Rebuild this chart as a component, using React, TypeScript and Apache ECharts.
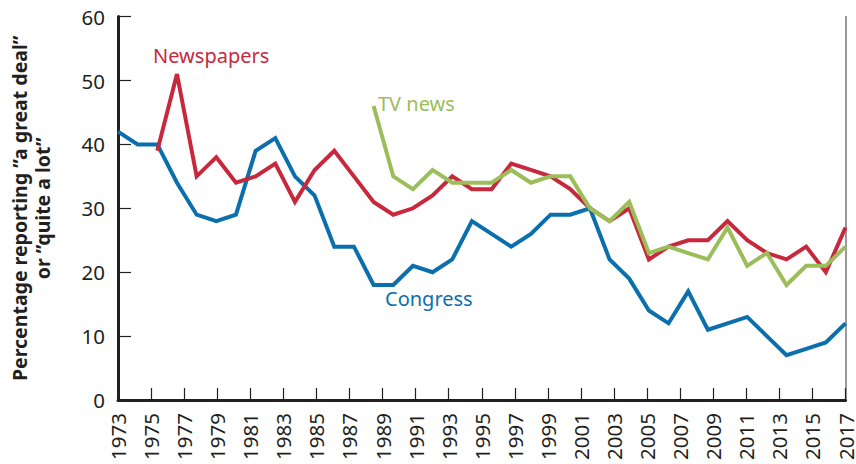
import React, { useEffect, useRef } from "react";
import * as echarts from "echarts";

// Survey years (points are spaced evenly along the axis)
const surveyYears = [
  "1973", "1975", "1977", "1979", "1981", "1983", "1984", "1985", "1986", "1988",
  "1989", "1990", "1991", "1993", "1994", "1995", "1996", "1997", "1998", "1999",
  "2000", "2001", "2002", "2003", "2004", "2005", "2006", "2007", "2008", "2009",
  "2010", "2011", "2012", "2013", "2014", "2015", "2016", "2017",
];

const congress = [
  42, 40, 40, 34, 29, 28, 29, 39, 41, 35, 32, 24, 24, 18, 18, 21, 20, 22, 28, 26,
  24, 26, 29, 29, 30, 22, 19, 14, 12, 17, 11, 12, 13, 10, 7, 8, 9, 12,
];

const newspapers = [
  null, null, 39, 51, 35, 38, 34, 35, 37, 31, 36, 39, 35, 31, 29, 30, 32, 35, 33, 33,
  37, 36, 35, 33, 30, 28, 30, 22, 24, 25, 25, 28, 25, 23, 22, 24, 20, 27,
];

const tvNews = [
  null, null, null, null, null, null, null, null, null, null, null, null, null, 46, 35, 33, 36, 34, 34, 34,
  36, 34, 35, 35, 30, 28, 31, 23, 24, 23, 22, 27, 21, 23, 18, 21, 21, 24,
];

// Axis tick labels: every year 1973-2017, labelled every other year
const axisYears: string[] = [];
for (let y = 1973; y <= 2017; y++) axisYears.push(String(y));

const yTicks = { min: 0, max: 60, interval: 10 };

const RED = "#c8283c";
const BLUE = "#0a6fac";
const GREEN = "#9bbd5a";
const FONT = "Noto Sans";

export default function App() {
  const ref = useRef<HTMLDivElement>(null);

  useEffect(() => {
    if (!ref.current) return;
    const chart = echarts.init(ref.current, null, { renderer: "svg" });
    chart.setOption({
      animation: false,
      backgroundColor: "#ffffff",
      grid: { left: 114.5, right: 9.5, top: 16.6, bottom: 64, containLabel: false },
      xAxis: [
        {
          type: "category",
          data: axisYears,
          boundaryGap: false,
          axisLine: { show: true, lineStyle: { color: "#231f20", width: 3 } },
          axisTick: {
            show: true,
            inside: true,
            length: 12,
            interval: 1,
            lineStyle: { color: "#231f20", width: 1.2 },
          },
          axisLabel: {
            interval: 1,
            rotate: 90,
            margin: 13,
            fontSize: 20.5,
            lineHeight: 16,
            fontFamily: FONT,
            color: "#231f20",
          },
          splitLine: { show: false },
        },
        {
          type: "category",
          data: surveyYears,
          boundaryGap: false,
          show: false,
          position: "bottom",
        },
      ],
      yAxis: [
        {
          type: "value",
          min: yTicks.min,
          max: yTicks.max,
          interval: yTicks.interval,
          name: "Percentage reporting \u201Da great deal\u201D\nor \u201Dquite a lot\u201D",
          nameLocation: "middle",
          nameRotate: 90,
          nameGap: 64,
          nameTextStyle: {
            fontSize: 19.5,
            fontWeight: "bold",
            fontFamily: FONT,
            color: "#231f20",
            lineHeight: 23,
          },
          axisLine: { show: true, lineStyle: { color: "#231f20", width: 3 } },
          axisTick: {
            show: true,
            inside: true,
            length: 13,
            lineStyle: { color: "#231f20", width: 1.2 },
          },
          axisLabel: {
            margin: 13,
            fontSize: 20.5,
            fontFamily: FONT,
            color: "#231f20",
          },
          splitLine: { show: false },
        },
        {
          type: "value",
          min: yTicks.min,
          max: yTicks.max,
          interval: yTicks.interval,
          position: "right",
          axisLine: { show: true, lineStyle: { color: "#777777", width: 1.5 } },
          axisTick: { show: false },
          axisLabel: { show: false },
          splitLine: { show: false },
        },
      ],
      series: [
        {
          name: "Congress",
          type: "line",
          xAxisIndex: 1,
          data: congress,
          symbol: "none",
          lineStyle: { color: BLUE, width: 4, join: "miter" },
          z: 3,
        },
        {
          name: "Newspapers",
          type: "line",
          xAxisIndex: 1,
          data: newspapers,
          symbol: "none",
          lineStyle: { color: RED, width: 4, join: "miter" },
          z: 4,
        },
        {
          name: "TV news",
          type: "line",
          xAxisIndex: 1,
          data: tvNews,
          symbol: "none",
          lineStyle: { color: GREEN, width: 4, join: "miter" },
          z: 5,
        },
      ],
      graphic: [
        {
          type: "text",
          left: 153,
          top: 45,
          style: { text: "Newspapers", fill: RED, fontSize: 20, fontFamily: FONT },
        },
        {
          type: "text",
          left: 378,
          top: 93,
          style: { text: "TV news", fill: GREEN, fontSize: 20, fontFamily: FONT },
        },
        {
          type: "text",
          left: 385,
          top: 288,
          style: { text: "Congress", fill: BLUE, fontSize: 20, fontFamily: FONT },
        },
      ],
    });
    return () => chart.dispose();
  }, []);

  return <div ref={ref} style={{ width: 856, height: 464, position: "absolute", left: 0, top: 0 }} />;
}
